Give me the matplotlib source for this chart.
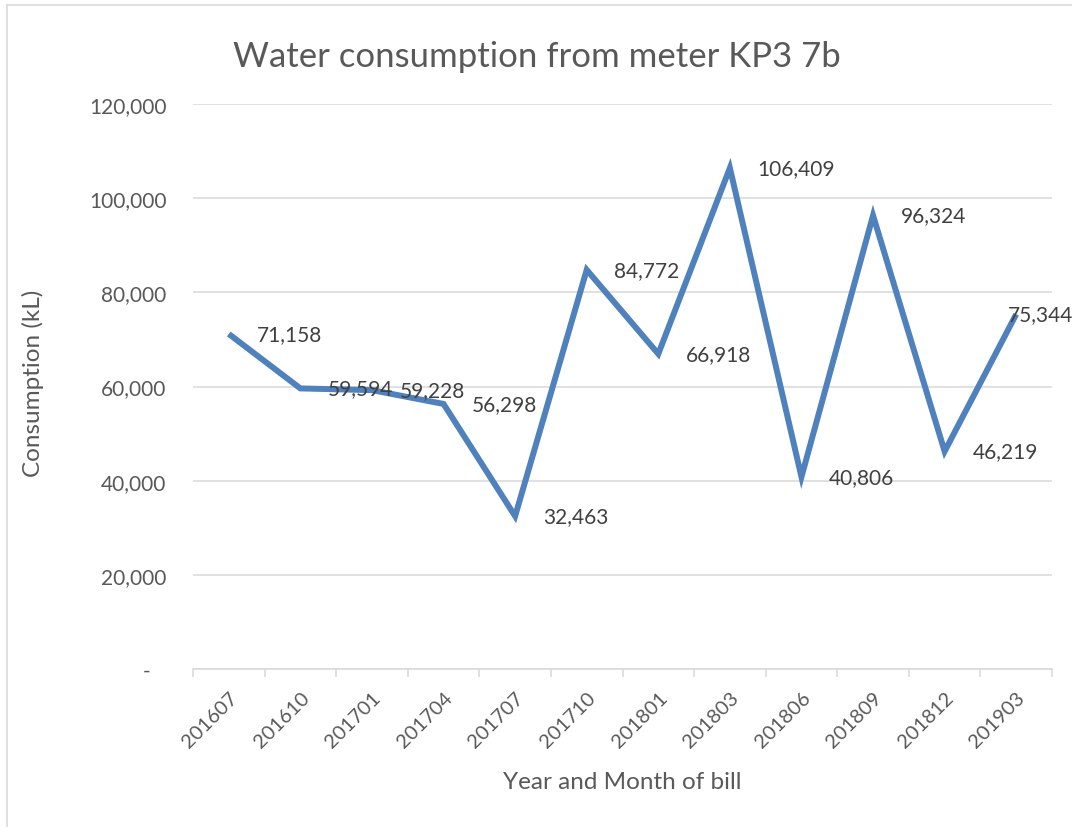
import matplotlib
matplotlib.use("Agg")
import matplotlib.pyplot as plt
from matplotlib.lines import Line2D
from matplotlib.ticker import FixedLocator, FuncFormatter

plt.rcParams["font.family"] = ["Lato", "DejaVu Sans"]

# --- data ---
bill_months = ["201607", "201610", "201701", "201704", "201707", "201710",
               "201801", "201803", "201806", "201809", "201812", "201903"]
consumption_kl = [71158, 59594, 59228, 56298, 32463, 84772,
                  66918, 106409, 40806, 96324, 46219, 75344]
y_ticks = [0, 20000, 40000, 60000, 80000, 100000, 120000]

TEXT = "#595959"
LABEL = "#404040"
GRID = "#D9D9D9"
BLUE = "#4F81BD"

W, H = 1072, 828
fig = plt.figure(figsize=(W / 100, H / 100), dpi=100)
ax = fig.add_axes([193 / W, 1 - 670 / H, (1052 - 193) / W, (670 - 105) / H])

x = list(range(len(bill_months)))
ax.plot(x, consumption_kl, color=BLUE, linewidth=4.3, solid_joinstyle="miter",
        solid_capstyle="butt", zorder=3)

# data labels to the right of each point (Excel style)
for i, v in enumerate(consumption_kl):
    dx = 20
    if i == len(consumption_kl) - 1:
        dx = -6  # pushed back inside the chart area
    ax.annotate(f"{v:,}", (i, v), xytext=(dx, 0), textcoords="offset points",
                ha="left", va="center", fontsize=15, color=LABEL, zorder=4,
                annotation_clip=False)

ax.set_xlim(-0.5, len(bill_months) - 0.5)
ax.set_ylim(0, 120000)

ax.set_yticks(y_ticks)
ax.yaxis.set_major_formatter(FuncFormatter(lambda v, p: "-   " if v == 0 else f"{int(v):,}"))
ax.tick_params(axis="y", length=0, pad=19, labelsize=15, labelcolor=TEXT)
ax.grid(axis="y", color=GRID, linewidth=1.1, zorder=0)

ax.set_xticks(x)
ax.set_xticklabels(bill_months, rotation=45, ha="right", va="top",
                   rotation_mode="anchor")
ax.xaxis.set_minor_locator(FixedLocator([i - 0.5 for i in range(len(bill_months) + 1)]))
ax.tick_params(axis="x", which="major", length=0, pad=14, labelsize=14.5, labelcolor=TEXT)
ax.tick_params(axis="x", which="minor", length=6, width=1.1, color=GRID)

for side in ["top", "right", "left"]:
    ax.spines[side].set_visible(False)
ax.spines["bottom"].set_color(GRID)
ax.spines["bottom"].set_linewidth(1.1)

fig.text(537 / W, 1 - 57 / H, "Water consumption from meter KP3 7b",
         ha="center", va="center", fontsize=25, color=TEXT)
fig.text(622 / W, 1 - 783 / H, "Year and Month of bill",
         ha="center", va="center", fontsize=17.5, color=TEXT)
fig.text(33 / W, 1 - 383 / H, "Consumption (kL)", rotation=90,
         ha="center", va="center", fontsize=17.5, color=TEXT)

# chart area border (only top and left visible in the crop)
fig.add_artist(Line2D([7 / W, 1], [1 - 6 / H, 1 - 6 / H], transform=fig.transFigure,
                      color=GRID, linewidth=1.1))
fig.add_artist(Line2D([7 / W, 7 / W], [0, 1 - 6 / H], transform=fig.transFigure,
                      color=GRID, linewidth=1.1))

fig.savefig("out.png", dpi=100)
